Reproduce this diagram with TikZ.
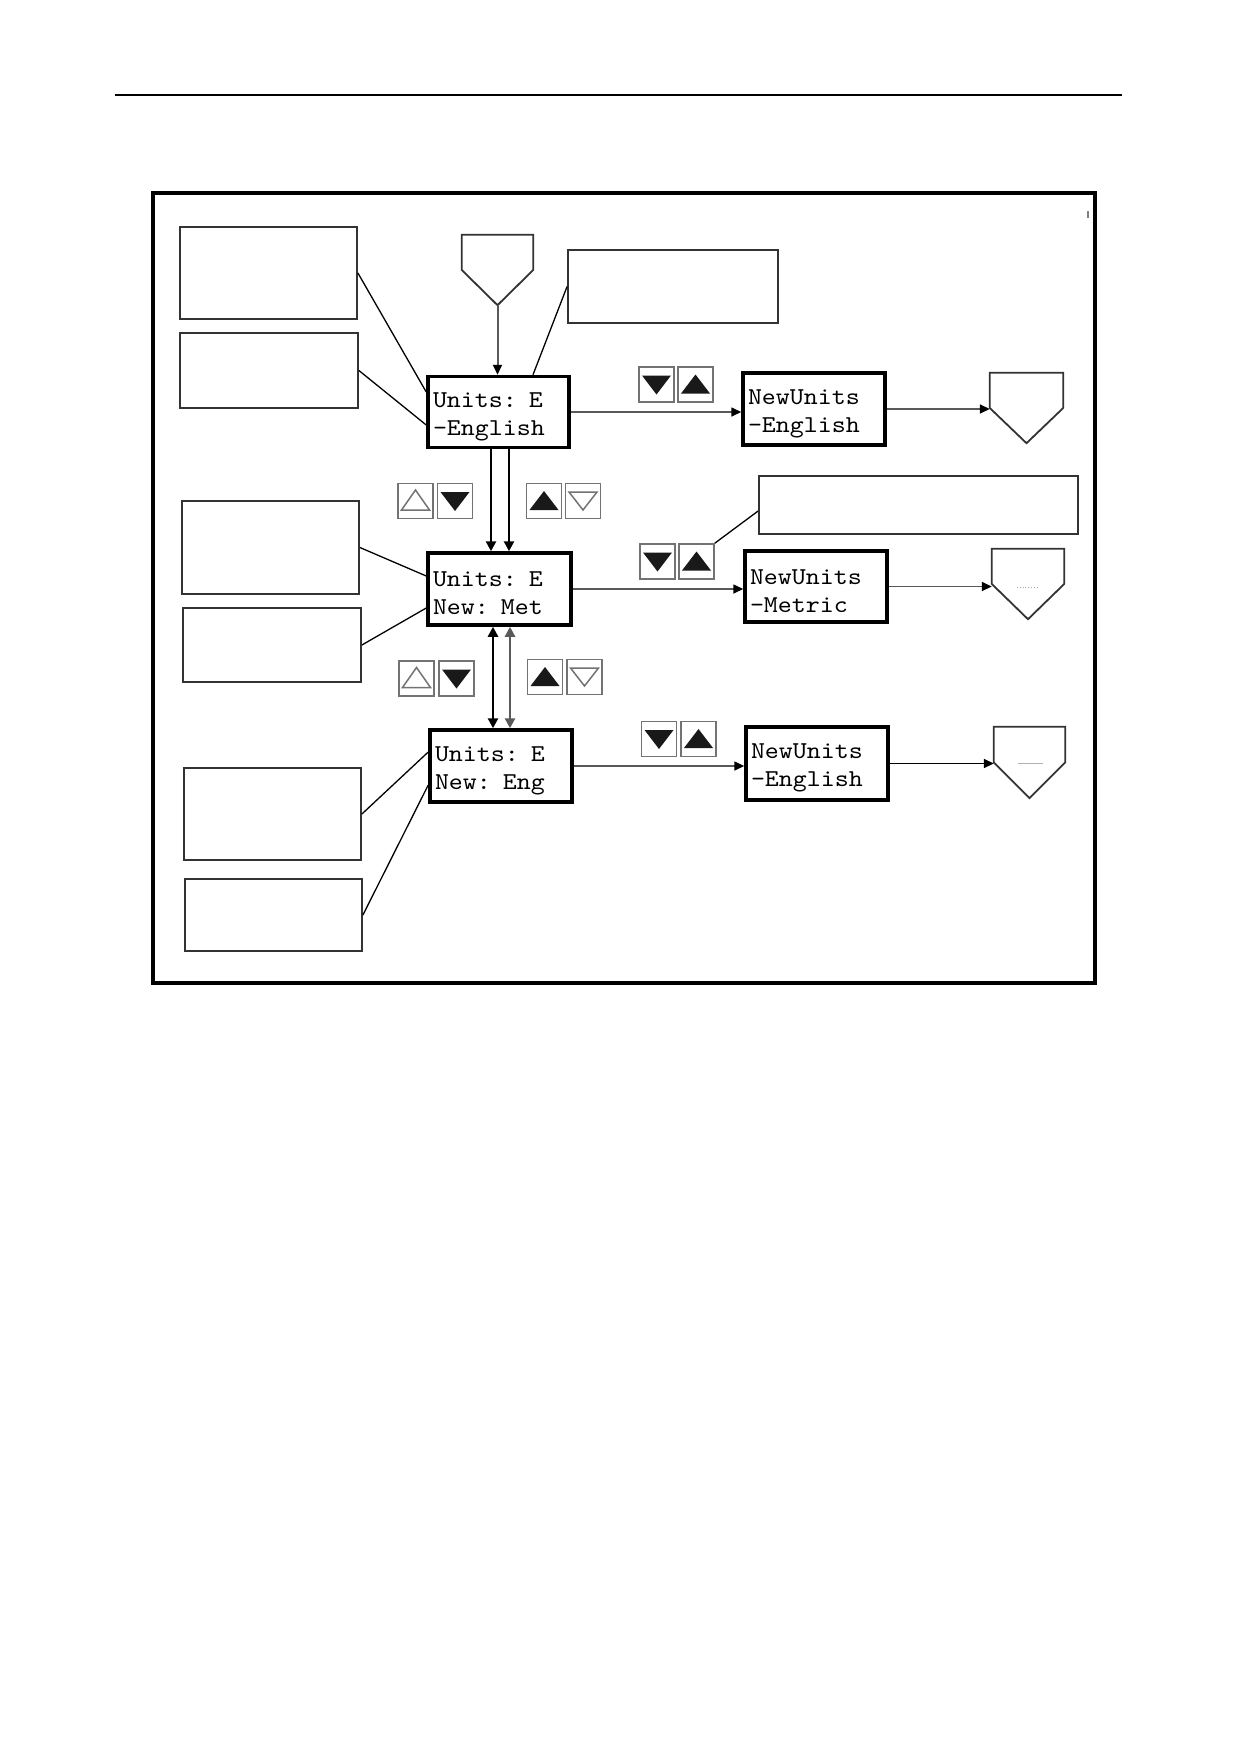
\documentclass[tikz,border=0pt]{standalone}
\usepackage{fontspec}
\setmonofont{lmmono10-regular.otf}[FakeStretch=1.1]
\usetikzlibrary{arrows.meta,calc}
\newcommand{\lcdstrut}{\rule{0pt}{24pt}}
\begin{document}
\begin{tikzpicture}[x=1pt,y=-1pt,
  thinbox/.style={draw=black!80, line width=1.8pt, inner sep=0pt},
  mainbox/.style={draw=black, line width=3.5pt, inner xsep=5pt, inner ysep=0pt,
    text width=131pt, minimum height=71pt, align=left,
    font=\ttfamily\fontsize{24.2}{28}\selectfont},
  nubox/.style={mainbox, text width=132pt},
  btn/.style={draw=black!55, line width=1.6pt, minimum width=35pt, minimum height=35pt, inner sep=0pt},
  btnfd/.style={btn, path picture={\fill[black!90] ($(path picture bounding box.center)+(-14.5,-9)$) -- ++(29,0) -- ($(path picture bounding box.center)+(0,10)$) -- cycle;}},
  btnfu/.style={btn, path picture={\fill[black!90] ($(path picture bounding box.center)+(-14.5,9)$) -- ++(29,0) -- ($(path picture bounding box.center)+(0,-10)$) -- cycle;}},
  btnod/.style={btn, path picture={\draw[line width=1.5pt] ($(path picture bounding box.center)+(-14,-9)$) -- ++(28,0) -- ($(path picture bounding box.center)+(0,9)$) -- cycle;}},
  btnou/.style={btn, path picture={\draw[line width=1.5pt] ($(path picture bounding box.center)+(-14,9)$) -- ++(28,0) -- ($(path picture bounding box.center)+(0,-11)$) -- cycle;}},
  pent/.style={inner sep=0pt, minimum height=70pt},
  pentline/.style={draw=black!80, line width=1.8pt, line join=miter},
  link/.style={line width=1.3pt, black},
  tip/.style={-{Triangle[length=10pt,width=9pt,color=black]}},
  flow/.style={line width=1.6pt, black!65, tip},
  vflow/.style={line width=2.5pt, black, -{Triangle[length=10pt,width=10pt]}},
  vflow2/.style={line width=2.5pt, black, {Triangle[length=10pt,width=10pt]}-{Triangle[length=10pt,width=10pt]}},
]
% page
\fill[white] (0,0) rectangle (1239,1754);
\draw[line width=1.5pt] (115,95) -- (1122,95);
\draw[line width=3.5pt] (153,193) rectangle (1095,983);
\draw[black!50, line width=1.2pt] (1088,211) -- (1088,218);

% note boxes
\node[thinbox, minimum width=177pt, minimum height=92pt] (A) at (268.5,273) {};
\node[thinbox, minimum width=178pt, minimum height=75pt] (B) at (269,370.5) {};
\node[thinbox, minimum width=210pt, minimum height=73pt] (C) at (673,286.5) {};
\node[thinbox, minimum width=319pt, minimum height=58pt] (D) at (918.5,505) {};
\node[thinbox, minimum width=177pt, minimum height=93pt] (E) at (270.5,547.5) {};
\node[thinbox, minimum width=178pt, minimum height=74pt] (F) at (272,645) {};
\node[thinbox, minimum width=177pt, minimum height=92pt] (G) at (272.5,814) {};
\node[thinbox, minimum width=177pt, minimum height=72pt] (H) at (273.5,915) {};

% main display boxes
\node[mainbox] (M1) at (498.5,412) {\lcdstrut Units: E\\-English};
\node[mainbox, minimum height=72pt, text width=133pt] (M2) at (499.5,589) {\lcdstrut Units: E\\New: Met};
\node[mainbox, minimum height=72pt, text width=132pt] (M3) at (501,766) {\lcdstrut Units: E\\New: Eng};
\node[nubox, minimum height=72pt] (N1) at (814,409) {\lcdstrut NewUnits\\-English};
\node[nubox] (N2) at (816,586.5) {\lcdstrut NewUnits\\-Metric};
\node[nubox, minimum height=73pt] (N3) at (817,763.5) {\lcdstrut NewUnits\\-English};

% off-page connectors
\node[pent, minimum width=71pt] (P0) at (497.5,270) {};
\node[pent, minimum width=73pt] (P1) at (1026.5,408) {};
\node[pent, minimum width=72pt] (P2) at (1028,584) {};
\node[pent, minimum width=71pt, minimum height=71pt] (P3) at (1029.5,762.5) {};
\foreach \p in {P0,P1,P2,P3}
  \draw[pentline] (\p.north west) -- (\p.north east) -- (\p.east) -- (\p.south) -- (\p.west) -- cycle;
\draw[black!35, line width=0.8pt, dotted] ($(P2.center)+(-11,3)$) -- ++(22,0);
\draw[black!30, line width=0.8pt] ($(P3.center)+(-12,1)$) -- ++(25,0);

% buttons
\node[btnfd] (b1a) at (656.5,384.5) {};
\node[btnfu] (b1b) at (695.5,384.5) {};
\node[btnou] (b2a) at (415.5,501) {};
\node[btnfd] (b2b) at (455,501) {};
\node[btnfu] (b2c) at (544,501) {};
\node[btnod] (b2d) at (583,501) {};
\node[btnfd] (b3a) at (657.5,561.5) {};
\node[btnfu] (b3b) at (696.5,561.5) {};
\node[btnou] (b4a) at (416.5,678.5) {};
\node[btnfd] (b4b) at (456.5,678.5) {};
\node[btnfu] (b4c) at (545,677) {};
\node[btnod] (b4d) at (584.5,677) {};
\node[btnfd] (b5a) at (659,739) {};
\node[btnfu] (b5b) at (698.5,739) {};

% note links
\draw[link] (A.east) -- ($(M1.west)+(0,-20)$);
\draw[link] (B.east) -- ($(M1.west)+(0,13)$);
\draw[link] (C.west) -- ($(M1.north)+(34.5,0)$);
\draw[link] ($(D.west)+(0,6)$) -- (b3b.north east);
\draw[link] (E.east) -- ($(M2.west)+(0,-13)$);
\draw[link] (F.east) -- ($(M2.west)+(0,19)$);
\draw[link] (G.east) -- ($(M3.west)+(0,-14)$);
\draw[link] (H.east) -- ($(M3.west)+(0,19)$);

% flow
\draw[flow, line width=2pt] (P0.south) -- (P0.south |- M1.north);
\draw[flow] (M1.east) -- (M1.east -| N1.west);
\draw[flow] (N1.east) -- (N1.east -| P1.west);
\draw[flow] (M2.east) -- (M2.east -| N2.west);
\draw[flow] (N2.east) -- (N2.east -| P2.west);
\draw[flow] (M3.east) -- (M3.east -| N3.west);
\draw[flow, black] (N3.east) -- (N3.east -| P3.west);

\coordinate (v1) at ($(M1.south)+(-7.5,0)$);
\coordinate (v2) at ($(M1.south)+(10.5,0)$);
\draw[vflow] (v1) -- (v1 |- M2.north);
\draw[vflow] (v2) -- (v2 |- M2.north);
\coordinate (v3) at ($(M2.south)+(-6.5,0)$);
\coordinate (v4) at ($(M2.south)+(10.5,0)$);
\draw[vflow2] (v3) -- (v3 |- M3.north);
\draw[vflow2, black!65] (v4) -- (v4 |- M3.north);
\end{tikzpicture}
\end{document}
